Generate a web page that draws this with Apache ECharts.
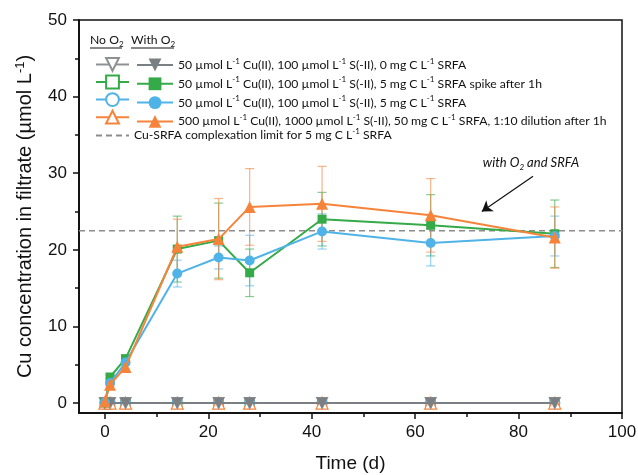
<!DOCTYPE html>
<html>
<head>
<meta charset="utf-8">
<script src="https://cdn.jsdelivr.net/npm/echarts@6/dist/echarts.min.js"></script>
<style>
  html, body { margin: 0; padding: 0; background: #fff; }
  #chart { width: 638px; height: 475px; }
</style>
</head>
<body>
<div id="chart"></div>
<script>
// Sampling times (days)
const times = [0, 1, 4, 14, 22, 28, 42, 63, 87];

// Filtrate Cu (µmol/L) — anoxic runs stay at zero throughout
const noO2Zero = [0, 0, 0, 0, 0, 0, 0, 0, 0];
const noO2Spike = [0, 0, 0, 0, 0, 0, 0, 0, 0];
const noO2Srfa = [0, 0, 0, 0, 0, 0, 0, 0, 0];
const noO2Dilution = [0, 0, 0, 0, 0, 0, 0, 0, 0];

// Oxic runs
const withO2Zero = [0, 0, 0, 0, 0, 0, 0, 0, 0];
const withO2Spike = [0, 3.4, 5.8, 20.1, 21.2, 17.0, 24.0, 23.2, 22.1];
const withO2Srfa = [0.1, 2.6, 5.3, 16.9, 19.0, 18.6, 22.4, 20.9, 21.8];
const withO2Dilution = [0.2, 2.4, 4.7, 20.4, 21.4, 25.6, 26.0, 24.5, 21.6];

// Standard deviations
const errSpike = [0, 0.2, 0.3, 4.3, 4.9, 3.1, 3.5, 4.0, 4.4];
const errSrfa = [0, 0.2, 0.3, 1.75, 1.5, 3.3, 2.3, 3.0, 2.6];
const errDilution = [0, 0.2, 0.3, 3.6, 5.3, 5.0, 4.9, 4.8, 4.0];

// Complexation limit for 5 mg C/L SRFA
const complexationLimit = 22.5;

// Axis ticks
const xTicks = [0, 20, 40, 60, 80, 100];
const xMinorTicks = [10, 30, 50, 70, 90];
const yTicks = [0, 10, 20, 30, 40, 50];
const yMinorTicks = [5, 15, 25, 35, 45];
const xRange = [-5, 100];
const yRange = [-1.3, 50];

// Annotation: arrow from text toward the oxic SRFA curves
const noteText = 'with O{b|2} and SRFA';
const noteTextAt = [82.4, 31.3];
const noteArrow = [[82.8, 29.6], [72.9, 25.0]];

// Legend labels
const labelZero = '50 µmol L{s|-1} Cu(II), 100 µmol L{s|-1} S(-II), 0 mg C L{s|-1} SRFA';
const labelSpike = '50 µmol L{s|-1} Cu(II), 100 µmol L{s|-1} S(-II), 5 mg C L{s|-1} SRFA spike after 1h';
const labelSrfa = '50 µmol L{s|-1} Cu(II), 100 µmol L{s|-1} S(-II), 5 mg C L{s|-1} SRFA';
const labelDilution = '500 µmol L{s|-1} Cu(II), 1000 µmol L{s|-1} S(-II), 50 mg C L{s|-1} SRFA, 1:10 dilution after 1h';
const labelLimit = 'Cu-SRFA complexation limit for 5 mg C L{s|-1} SRFA';

const GREY = '#7a7f83';
const GREY_LINE = '#8e9194';
const GREEN = '#35aa48';
const BLUE = '#4fb3e8';
const ORANGE = '#f5843a';
const AXIS_FONT = 'Liberation Sans, Arial, sans-serif';
const LEGEND_FONT = 'Lato, "Open Sans", sans-serif';
const LEGEND_SIZE = 12.2;

const pairs = (vals) => times.map((t, i) => [t, vals[i]]);

function openSeries(name, vals, color, symbol, size, rotate, z) {
  return {
    name, type: 'line', data: pairs(vals), z,
    symbol, symbolSize: size, symbolRotate: rotate || 0,
    itemStyle: { color: '#fff', borderColor: color, borderWidth: 1.2 },
    lineStyle: { color: color, width: 2 },
    emphasis: { disabled: true }
  };
}
function filledSeries(name, vals, color, symbol, size, rotate, z) {
  return {
    name, type: 'line', data: pairs(vals), z,
    symbol, symbolSize: size, symbolRotate: rotate || 0,
    itemStyle: { color: color },
    lineStyle: { color: color, width: 2 },
    emphasis: { disabled: true }
  };
}
function errorSeries(vals, errs, color) {
  return {
    type: 'custom', z: 1, silent: true,
    data: times.map((t, i) => [t, vals[i] - errs[i], vals[i] + errs[i]]),
    encode: { x: 0, y: [1, 2] },
    renderItem(params, api) {
      const x = api.value(0);
      const lo = api.coord([x, api.value(1)]);
      const hi = api.coord([x, api.value(2)]);
      const hw = 4.5;
      const st = { stroke: color, lineWidth: 1.2, opacity: 0.6 };
      return {
        type: 'group',
        children: [
          { type: 'line', shape: { x1: lo[0], y1: lo[1], x2: hi[0], y2: hi[1] }, style: st },
          { type: 'line', shape: { x1: lo[0] - hw, y1: lo[1], x2: lo[0] + hw, y2: lo[1] }, style: st },
          { type: 'line', shape: { x1: hi[0] - hw, y1: hi[1], x2: hi[0] + hw, y2: hi[1] }, style: st }
        ]
      };
    }
  };
}

const N = {
  noZero: 'No O2: 0 mg C', noSpike: 'No O2: spike', noSrfa: 'No O2: SRFA', noDil: 'No O2: dilution',
  wZero: 'With O2: 0 mg C', wSpike: 'With O2: spike', wSrfa: 'With O2: SRFA', wDil: 'With O2: dilution',
  limit: 'Complexation limit'
};
const withLabels = {};
withLabels[N.wZero] = labelZero;
withLabels[N.wSpike] = labelSpike;
withLabels[N.wSrfa] = labelSrfa;
withLabels[N.wDil] = labelDilution;

const legendText = {
  fontFamily: LEGEND_FONT, fontSize: LEGEND_SIZE, color: '#111', lineHeight: 16,
  rich: { s: { fontSize: 8, lineHeight: 8, verticalAlign: 'top', fontFamily: LEGEND_FONT, color: '#111' } }
};
const subRich = { b: { fontSize: 8, lineHeight: 8, verticalAlign: 'bottom', fontFamily: LEGEND_FONT, fill: '#111' } };

const chart = echarts.init(document.getElementById('chart'), null, { renderer: 'canvas' });

const axisStroke = { color: '#111', width: 1.5 };

const option = {
  animation: false,
  backgroundColor: '#fff',
  grid: {
    left: 79, right: 16, top: 20, bottom: 62, outerBoundsMode: 'none', containLabel: false,
    show: true, borderColor: '#111', borderWidth: 1.5, backgroundColor: 'transparent'
  },
  xAxis: [
    {
      type: 'value', min: xRange[0], max: xRange[1],
      name: 'Time (d)', nameLocation: 'middle', nameGap: 41,
      nameTextStyle: { fontFamily: AXIS_FONT, fontSize: 19, color: '#111' },
      axisLine: { show: true, onZero: false, lineStyle: axisStroke },
      axisTick: { show: true, customValues: xTicks, length: 6, lineStyle: axisStroke },
      axisLabel: { show: true, customValues: xTicks, fontFamily: AXIS_FONT, fontSize: 17, color: '#111', margin: 11 },
      splitLine: { show: false }
    },
    {
      // minor ticks
      type: 'value', min: xRange[0], max: xRange[1], position: 'bottom',
      axisLine: { show: true, onZero: false, lineStyle: axisStroke },
      axisTick: { show: true, customValues: xMinorTicks, length: 4, lineStyle: axisStroke },
      axisLabel: { show: false, customValues: xMinorTicks },
      splitLine: { show: false }
    }
  ],
  yAxis: [
    {
      type: 'value', min: yRange[0], max: yRange[1],
      name: 'Cu concentration in filtrate (µmol L{s|-1})', nameLocation: 'middle', nameGap: 36,
      nameTextStyle: {
        fontFamily: AXIS_FONT, fontSize: 20, color: '#111', lineHeight: 23,
        rich: { s: { fontFamily: AXIS_FONT, fontSize: 13, lineHeight: 13, verticalAlign: 'top', color: '#111' } }
      },
      axisLine: { show: true, onZero: false, lineStyle: axisStroke },
      axisTick: { show: true, customValues: yTicks, length: 6, lineStyle: axisStroke },
      axisLabel: { show: true, customValues: yTicks, fontFamily: AXIS_FONT, fontSize: 17, color: '#111', margin: 12 },
      splitLine: { show: false }
    },
    {
      // minor ticks
      type: 'value', min: yRange[0], max: yRange[1], position: 'left',
      axisLine: { show: true, onZero: false, lineStyle: axisStroke },
      axisTick: { show: true, customValues: yMinorTicks, length: 4, lineStyle: axisStroke },
      axisLabel: { show: false, customValues: yMinorTicks },
      splitLine: { show: false }
    }
  ],
  legend: [
    {
      left: 90, top: 52, orient: 'vertical', selectedMode: false,
      itemWidth: 33, itemHeight: 16, itemGap: 2.8,
      data: [N.noZero, N.noSpike, N.noSrfa, N.noDil, N.limit],
      formatter: (name) => name === N.limit ? labelLimit : '',
      textStyle: legendText
    },
    {
      left: 131, top: 52, orient: 'vertical', selectedMode: false,
      itemWidth: 36, itemHeight: 16, itemGap: 2.8,
      data: [N.wZero, N.wSpike, N.wSrfa, N.wDil],
      formatter: (name) => withLabels[name],
      textStyle: legendText
    }
  ],
  series: [
    errorSeries(withO2Spike, errSpike, GREEN),
    errorSeries(withO2Srfa, errSrfa, BLUE),
    errorSeries(withO2Dilution, errDilution, ORANGE),

    openSeries(N.noSpike, noO2Spike, GREEN, 'rect', 9, 0, 2),
    openSeries(N.noSrfa, noO2Srfa, BLUE, 'circle', 10, 0, 2),
    openSeries(N.noDil, noO2Dilution, ORANGE, 'triangle', 12, 0, 2),
    openSeries(N.noZero, noO2Zero, GREY_LINE, 'triangle', 11, 180, 3),

    filledSeries(N.wZero, withO2Zero, GREY, 'triangle', 11, 180, 4),
    {
      name: N.limit, type: 'line', z: 4, silent: true,
      data: [[xRange[0], complexationLimit], [xRange[1], complexationLimit]],
      showSymbol: false, symbol: 'circle', symbolSize: 0,
      itemStyle: { color: 'rgba(0,0,0,0)', borderWidth: 0 },
      lineStyle: { color: '#8c8c8c', width: 1.5, type: [6, 4] },
      emphasis: { disabled: true }
    },
    filledSeries(N.wSpike, withO2Spike, GREEN, 'rect', 9, 0, 5),
    filledSeries(N.wSrfa, withO2Srfa, BLUE, 'circle', 10, 0, 6),
    filledSeries(N.wDil, withO2Dilution, ORANGE, 'triangle', 12, 0, 7),

    {
      type: 'line', data: [], silent: true, z: 8,
      markLine: {
        silent: true, animation: false,
        symbol: ['none', 'arrow'], symbolSize: 10,
        label: { show: false },
        lineStyle: { color: '#111', width: 1.2, type: 'solid' },
        data: [[{ coord: noteArrow[0] }, { coord: noteArrow[1] }]]
      }
    }
  ]
};

chart.setOption(option);

// Legend column headers and the italic annotation placed at its data position
const notePx = chart.convertToPixel({ xAxisIndex: 0, yAxisIndex: 0 }, noteTextAt);
chart.setOption({
  graphic: [
    {
      id: 'hdrNo', type: 'text', left: 90, top: 32,
      style: { text: 'No O{b|2}', fontFamily: LEGEND_FONT, fontSize: LEGEND_SIZE, fill: '#111', lineHeight: 16, rich: subRich }
    },
    {
      id: 'hdrWith', type: 'text', left: 131, top: 32,
      style: { text: 'With O{b|2}', fontFamily: LEGEND_FONT, fontSize: LEGEND_SIZE, fill: '#111', lineHeight: 16, rich: subRich }
    },
    { id: 'ulNo', type: 'line', shape: { x1: 90, y1: 48, x2: 122, y2: 48 }, style: { stroke: '#111', lineWidth: 1 } },
    { id: 'ulWith', type: 'line', shape: { x1: 131, y1: 48, x2: 174, y2: 48 }, style: { stroke: '#111', lineWidth: 1 } },
    {
      id: 'note', type: 'text', x: notePx[0], y: notePx[1],
      style: {
        text: noteText, align: 'center', verticalAlign: 'middle',
        fontFamily: LEGEND_FONT, fontStyle: 'italic', fontSize: 13, fill: '#111', lineHeight: 16,
        rich: { b: { fontSize: 8, lineHeight: 8, verticalAlign: 'bottom', fontStyle: 'italic', fontFamily: LEGEND_FONT, fill: '#111' } }
      }
    }
  ]
});
</script>
</body>
</html>
